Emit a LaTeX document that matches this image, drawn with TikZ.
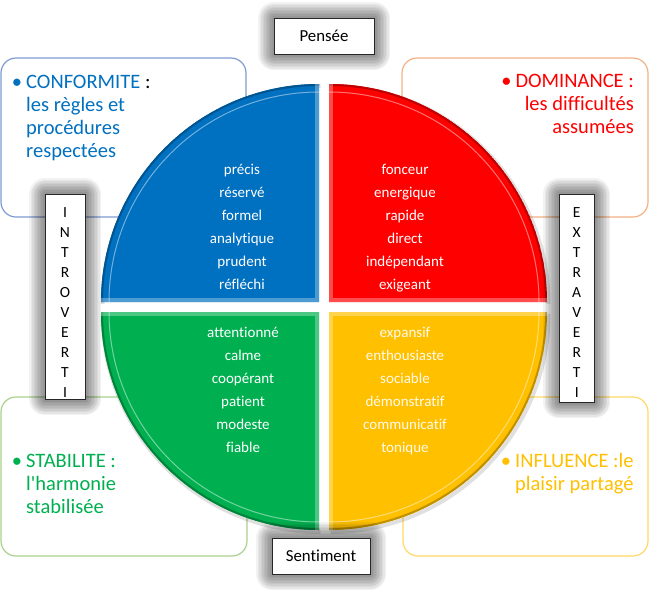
\documentclass[tikz,border=0pt]{standalone}
\usepackage{fontspec}
\setmainfont{Carlito}[Ligatures=NoCommon]

\definecolor{bleuq}{RGB}{0,112,192}
\definecolor{rougeq}{RGB}{255,0,0}
\definecolor{vertq}{RGB}{0,176,80}
\definecolor{jauneq}{RGB}{255,192,0}
\definecolor{cadrebleu}{RGB}{126,156,210}
\definecolor{cadreorange}{RGB}{244,177,131}
\definecolor{cadrevert}{RGB}{169,209,142}
\definecolor{cadrejaune}{RGB}{255,217,102}

\tikzset{
  halo/.style={preaction={draw=black, opacity=.05, line width=#1, line join=round}},
  glow/.style={halo=32pt, halo=29pt, halo=26pt, halo=23pt, halo=20pt,
    halo=17pt, halo=14pt, halo=11pt, halo=8pt, halo=5pt},
  etiquette/.style={glow, draw=black!85, fill=white, line width=.8pt, inner sep=0pt,
    font=\fontsize{16.8}{20}\selectfont},
}

\begin{document}
\begin{tikzpicture}[x=1pt,y=-1pt,
    cadre/.style={rounded corners=15pt, line width=1.2pt, fill=white},
    titre/.style={font=\fontsize{20.5}{23}\selectfont, inner sep=0pt},
    mot/.style={font=\fontsize{15}{23}\selectfont, text=white, inner sep=0pt}]
  \useasboundingbox (0,0) rectangle (650,592);

  \draw[cadre, draw=cadrebleu] (1,58) rectangle (246,217);
  \draw[cadre, draw=cadreorange] (402,58) rectangle (648,217);
  \draw[cadre, draw=cadrevert] (1,397) rectangle (247,556);
  \draw[cadre, draw=cadrejaune] (403,397) rectangle (648,556);

  % quarts du disque
  \foreach \cx/\cy/\a/\coul in {319/302/180/bleuq, 329/302/270/rougeq, 329/312/0/jauneq, 319/312/90/vertq}{
    \draw[black, opacity=.12, line width=4pt] (\cx+1.5,\cy+2) ++(\a:218)
      arc[start angle=\a, delta angle=90, radius=218];
    \begin{scope}
      \clip (\cx,\cy) -- ++(\a:218) arc[start angle=\a, delta angle=90, radius=218] -- cycle;
      \fill[\coul] (\cx,\cy) -- ++(\a:218) arc[start angle=\a, delta angle=90, radius=218] -- cycle;
      \draw[\coul!75!black, line width=4pt] (\cx,\cy) ++(\a:218)
        arc[start angle=\a, delta angle=90, radius=218];
      \draw[white, opacity=.3, line width=8pt] (\cx,\cy) ++(\a:218) -- (\cx,\cy) -- ++({\a+90}:218);
      \draw[white, opacity=.45, line width=1pt] (\cx,\cy) ++(\a:210)
        arc[start angle=\a, delta angle=90, radius=210];
    \end{scope}
  }

  \node[titre, text=bleuq, anchor=base west, align=left] (conformite) at (26,157)
    {\llap{•\hspace{4pt}}CONFORMITE {\color{black}:}\\les règles et\\procédures\\respectées};
  \node[titre, text=rougeq, anchor=base east, align=right] (dominance) at (634,133)
    {•\hspace{4pt}DOMINANCE :\\les difficultés\\assumées};
  \node[titre, text=vertq, anchor=base west, align=left] (stabilite) at (26,513)
    {\llap{•\hspace{4pt}}STABILITE :\\l\textquotesingle harmonie\\stabilisée};
  \node[titre, text=jauneq, anchor=base west, align=left] (influence) at (515,490)
    {\llap{•\hspace{4pt}}INFLUENCE :le\\plaisir partagé};

  \foreach \m [count=\i] in {précis,réservé,formel,analytique,prudent,réfléchi}
    \node[mot, anchor=base] (bleu\i) at (242,{174+23*(\i-1)}) {\m};
  \foreach \m [count=\i] in {fonceur,energique,rapide,direct,indépendant,exigeant}
    \node[mot, anchor=base] (rouge\i) at (405,{174+23*(\i-1)}) {\m};
  \foreach \m [count=\i] in {attentionné,calme,coopérant,patient,modeste,fiable}
    \node[mot, anchor=base] (vert\i) at (243,{337+23*(\i-1)}) {\m};
  \foreach \m [count=\i] in {expansif,enthousiaste,sociable,démonstratif,communicatif,tonique}
    \node[mot, anchor=base, text=white!92!jauneq] (jaune\i) at (405,{337+23*(\i-1)}) {\m};

  \node[etiquette, minimum width=100pt, minimum height=36pt] (pensee) at (324,36) {Pensée};
  \node[etiquette, minimum width=98pt, minimum height=36pt] (sentiment) at (321,556) {Sentiment};

  \node[etiquette, font=\fontsize{15.5}{20}\selectfont, align=center, minimum width=40pt,
    inner ysep=1.5pt, anchor=north] (introverti) at (65,194)
    {\rule{0pt}{22pt}I\\N\\T\\R\\O\\V\\E\\R\\T\\I};
  \node[etiquette, font=\fontsize{15.5}{20}\selectfont, align=center, minimum width=35pt,
    inner ysep=4.5pt, anchor=north] (extraverti) at (576.7,194)
    {\rule{0pt}{19pt}E\\X\\T\\R\\A\\V\\E\\R\\T\\I};
\end{tikzpicture}
\end{document}
